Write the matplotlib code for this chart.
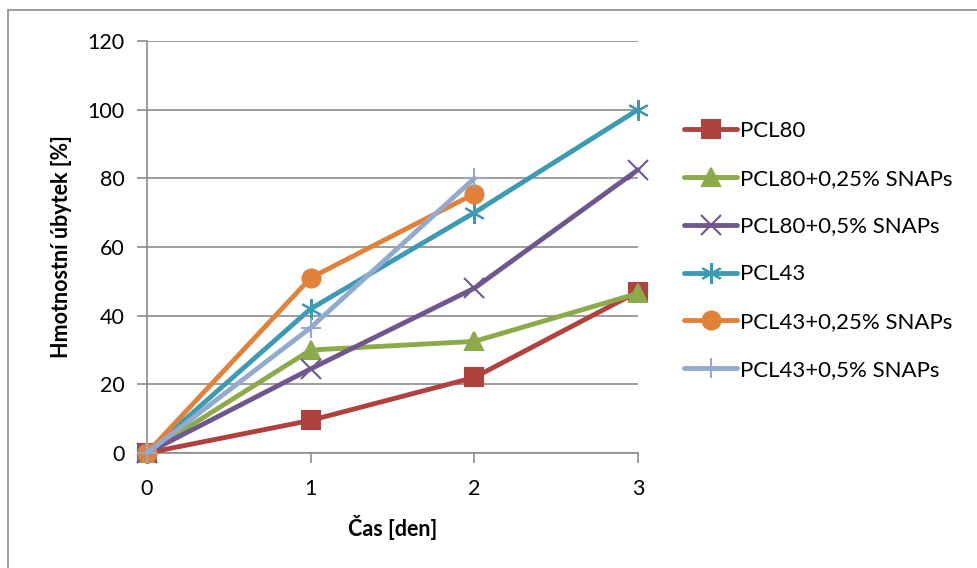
import matplotlib
matplotlib.use("Agg")
import matplotlib.pyplot as plt
from matplotlib.patches import Rectangle

plt.rcParams['font.family'] = ['Lato', 'DejaVu Sans']

days = [0, 1, 2, 3]
series_names = ["PCL80", "PCL80+0,25% SNAPs", "PCL80+0,5% SNAPs",
                "PCL43", "PCL43+0,25% SNAPs", "PCL43+0,5% SNAPs"]
pcl80 = [0, 9.5, 22, 47]
pcl80_025 = [0, 30, 32.5, 46.5]
pcl80_05 = [0, 24.5, 48, 82.5]
pcl43 = [0, 42, 70, 100]
pcl43_025 = [0, 51, 75.5]
pcl43_05 = [0, 36.5, 80]
yticks = [0, 20, 40, 60, 80, 100, 120]
xticks = [0, 1, 2, 3]

data = [pcl80, pcl80_025, pcl80_05, pcl43, pcl43_025, pcl43_05]
colors = ['#B0413E', '#8BAA4A', '#70568F', '#3D9AB3', '#E2823A', '#93AACF']
markers = ['s', '^', 'x', (6, 2, 0), 'o', '+']
msizes = [13, 13.5, 14, 15, 13, 15]

fig = plt.figure(figsize=(9.78, 5.68), dpi=100)
W, H = 978, 568
ax = fig.add_axes([147 / W, 1 - 453 / H, (638 - 147) / W, (453 - 41) / H])

for name, vals, c, m, ms in zip(series_names, data, colors, markers, msizes):
    ax.plot(days[:len(vals)], vals, color=c, lw=3.5, marker=m, markersize=ms,
            markeredgecolor=c, markerfacecolor=c, markeredgewidth=1.5,
            label=name, solid_capstyle='round', clip_on=False, zorder=3)

ax.set_xlim(0, 3)
ax.set_ylim(0, 120)
ax.set_xticks(xticks)
ax.set_yticks(yticks)
ax.grid(axis='y', color='#8C8C8C', lw=1.2)
ax.set_axisbelow(True)
for s in ['top', 'right']:
    ax.spines[s].set_visible(False)
for s in ['left', 'bottom']:
    ax.spines[s].set_color('#8C8C8C')
    ax.spines[s].set_linewidth(1.2)
ax.tick_params(axis='both', colors='#8C8C8C', length=7, width=1.2,
               labelcolor='black', labelsize=15.5)
ax.tick_params(axis='y', pad=9)
ax.tick_params(axis='x', pad=12)
ax.set_xlabel('Čas [den]', fontsize=15.5, fontweight='bold', labelpad=11)
ax.set_ylabel('Hmotnostní úbytek [%]', fontsize=15.5, fontweight='bold', labelpad=11)

leg = fig.legend(loc='upper left', bbox_to_anchor=(684 / W, 1 - 121 / H),
                 frameon=False, fontsize=16, handlelength=2.4,
                 handletextpad=0.12, labelspacing=1.25, borderpad=0,
                 borderaxespad=0)

fig.patches.append(Rectangle((8 / W, -0.1), 1.5, (1.1 - 10 / H),
                             transform=fig.transFigure, fill=False,
                             edgecolor='#8C8C8C', lw=1.2))

fig.savefig('out.png', dpi=100)
